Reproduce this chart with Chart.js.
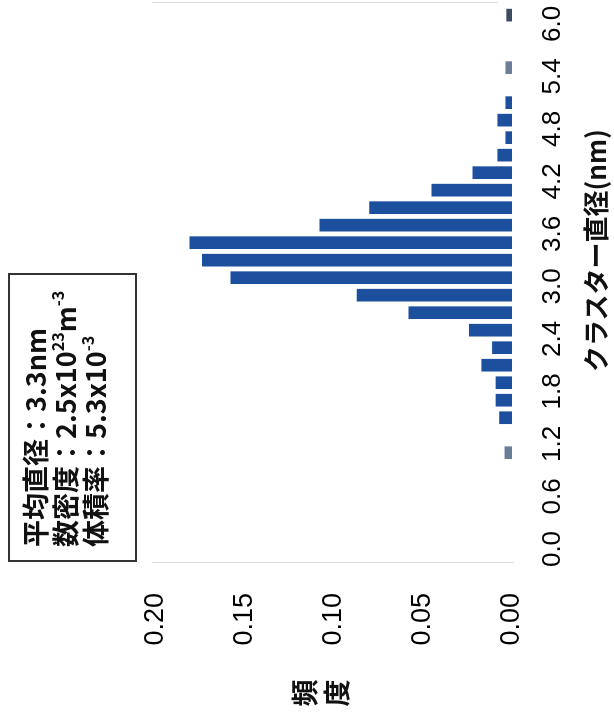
<!DOCTYPE html>
<html lang="ja">
<head>
<meta charset="utf-8">
<title>クラスター直径分布</title>
<script src="https://cdn.jsdelivr.net/npm/chart.js@4/dist/chart.umd.min.js"></script>
<style>
  html, body { margin: 0; padding: 0; background: #fff; overflow: hidden; }
  body { width: 614px; height: 724px; position: relative; }
  /* the figure is laid out landscape, then turned a quarter turn counter-clockwise */
  #frame {
    position: absolute; left: 0; top: 0;
    width: 724px; height: 614px;
    transform-origin: 0 0;
    transform: translate(0, 724px) rotate(-90deg);
    background: #fff;
  }
  #chart { position: absolute; left: 0; top: 0; }
  .jp { font-family: "Noto Sans CJK JP", "Noto Sans", sans-serif; color: #111; }
  #info {
    position: absolute; left: 162px; top: 8px;
    width: 285px; height: 125px;
    border: 2px solid #333;
    box-sizing: content-box;
    padding: 0;
    font-size: 27px; line-height: 30px; font-weight: bold;
  }
  #info .lines { position: absolute; left: 13px; top: 10px; white-space: nowrap; }
  #info sup { font-size: 60%; line-height: 0; vertical-align: 0; position: relative; top: -0.75em; }
  #xTitle {
    position: absolute; left: 352px; top: 580px;
    font-size: 26px; font-weight: bold; line-height: 30px; white-space: nowrap;
  }
  #yTitle {
    position: absolute; left: 16px; top: 288px;
    width: 30px; text-align: center;
    font-size: 27px; font-weight: bold; line-height: 32px;
  }
</style>
</head>
<body>
<div id="frame">
  <canvas id="chart" width="724" height="614"></canvas>
  <div id="info" class="jp"><div class="lines">
    <div>平均直径：3.3nm</div>
    <div>数密度：2.5x10<sup>23</sup>m<sup>-3</sup></div>
    <div>体積率：5.3x10<sup>-3</sup></div>
  </div></div>
  <div id="xTitle" class="jp">クラスター直径(nm)</div>
  <div id="yTitle" class="jp">頻<br>度</div>
</div>
<script>
// cluster diameter histogram: bin centres (nm) and relative frequency
const diameters = [1.1, 1.5, 1.7, 1.9, 2.1, 2.3, 2.5, 2.7, 2.9, 3.1, 3.3,
                   3.5, 3.7, 3.9, 4.1, 4.3, 4.5, 4.7, 4.9, 5.1, 5.5, 6.1];
const frequencies = [0.004, 0.007, 0.009, 0.009, 0.017, 0.011, 0.024, 0.058, 0.087, 0.158, 0.174,
                     0.181, 0.108, 0.080, 0.045, 0.022, 0.008, 0.0035, 0.008, 0.0035, 0.0035, 0.003];
// tick labels along each axis
const diameterTicks = ['0.0', '0.6', '1.2', '1.8', '2.4', '3.0', '3.6', '4.2', '4.8', '5.4', '6.0'];
const frequencyTicks = ['0.00', '0.05', '0.10', '0.15', '0.20'];

// fill colours: a few faint bins are printed in slate grey
const blue = '#1d4f9f', slate = '#6a7e98', dark = '#3d4b60';
const barColors = diameters.map(d => (d === 1.1 || d === 5.5) ? slate : (d === 6.1 ? dark : blue));

const tickFont = { family: '"Liberation Sans", Arial, sans-serif', size: 26 };

// faint frame lines at the left and right ends of the plot
const framePlugin = {
  id: 'frameLines',
  afterDraw(chart) {
    const { ctx, chartArea: a } = chart;
    ctx.save();
    ctx.strokeStyle = '#dedede';
    ctx.lineWidth = 1;
    ctx.beginPath();
    ctx.moveTo(a.left + 0.5, a.top - 4); ctx.lineTo(a.left + 0.5, a.bottom + 2);
    ctx.moveTo(a.right - 0.5, a.top - 4); ctx.lineTo(a.right - 0.5, a.bottom - 14);
    ctx.stroke();
    ctx.restore();
  }
};

new Chart(document.getElementById('chart'), {
  type: 'bar',
  data: {
    datasets: [{
      data: diameters.map((d, i) => ({ x: d, y: frequencies[i] })),
      backgroundColor: barColors,
      borderWidth: 0,
      barThickness: 12
    }]
  },
  options: {
    responsive: false,
    animation: false,
    devicePixelRatio: 1,
    layout: { padding: { top: 156, right: 2, left: 0, bottom: 0 } },
    plugins: { legend: { display: false }, tooltip: { enabled: false } },
    scales: {
      x: {
        type: 'linear',
        offset: false,
        min: -0.16,
        max: 6.25,
        grid: { display: false, drawTicks: false, offset: false },
        border: { display: false },
        afterBuildTicks: s => { s.ticks = diameterTicks.map(t => ({ value: parseFloat(t) })); },
        afterFit: s => { s.height = 614 - 512; s.paddingLeft = 0; s.paddingRight = 0; },
        ticks: {
          autoSkip: false,
          maxRotation: 0,
          padding: 25,
          color: '#000',
          font: tickFont,
          callback: v => diameterTicks.find(t => parseFloat(t) === v) ?? ''
        }
      },
      y: {
        min: 0,
        max: 0.20,
        grid: { display: false, drawTicks: false },
        border: { display: false },
        afterBuildTicks: s => { s.ticks = frequencyTicks.map(t => ({ value: parseFloat(t) })); },
        afterFit: s => { s.width = 161; s.paddingTop = 0; s.paddingBottom = 0; },
        ticks: {
          padding: 30,
          color: '#000',
          font: { family: tickFont.family, size: 27 },
          callback: v => frequencyTicks.find(t => parseFloat(t) === v) ?? ''
        }
      }
    }
  },
  plugins: [framePlugin]
});
</script>
</body>
</html>
